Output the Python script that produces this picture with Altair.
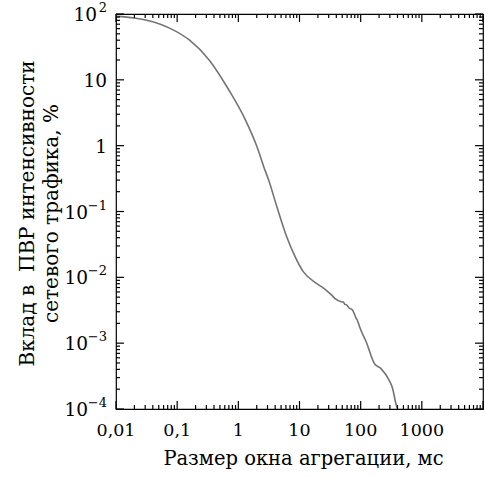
import altair as alt
import pandas as pd

# curve
window_ms = [0.01, 0.02, 0.04, 0.075, 0.158, 0.333, 0.70, 1.31, 2.02, 2.6, 3.13, 4.27,
             6.2, 8.5, 11.6, 19, 22.9, 33.3, 37.8, 48, 52, 55, 58, 62, 66, 70, 72, 75,
             76, 80, 84, 88, 92, 96, 123, 168, 215, 294, 333, 376, 400]
share_pct = [92, 87, 76, 61, 40.3, 20, 7.0, 2.45, 0.96, 0.48, 0.30, 0.118,
             0.041, 0.0205, 0.0121, 0.0081, 0.0072, 0.0054, 0.0048, 0.00425, 0.0042,
             0.0039, 0.00385, 0.0036, 0.00337, 0.0033, 0.00325, 0.0031, 0.0030, 0.0027,
             0.0024, 0.00225, 0.0020, 0.00177, 0.00105, 0.00049, 0.00041, 0.00027,
             0.000205, 0.000121, 0.0001]

# tick labels
x_major = [0.01, 0.1, 1, 10, 100, 1000, 10000]
x_labels = ["0,01", "0,1", "1", "10", "100", "1000", ""]
y_major = [100, 10, 1, 0.1, 0.01, 0.001, 0.0001]
y_base = ["10", "10", "1", "10", "10", "10", "10"]
y_exp = ["2", "", "", "−1", "−2", "−3", "−4"]

x_title = "Размер окна агрегации,  мс"
y_title = "Вклад в\u00a0 ПВР интенсивности\nсетевого трафика, %"

W, H = 367, 395
FONT = "DejaVu Serif"
MAJOR_LEN, MINOR_LEN = 8, 4
LABEL_GAP = 9
EXP_W = {0: 0, 1: 10, 2: 19}


def minor_ticks(majors):
    vals = []
    lo, hi = min(majors), max(majors)
    for m in sorted(majors):
        for k in range(2, 10):
            v = m * k
            if lo <= v <= hi:
                vals.append(float(f"{v:.6g}"))
    return vals


x_minor = minor_ticks(x_major)
y_minor = minor_ticks(y_major)

xscale = alt.Scale(type="log", domain=[0.01, 10000], nice=False)
yscale = alt.Scale(type="log", domain=[0.0001, 100], nice=False)

df = pd.DataFrame({"x": window_ms, "y": share_pct})

main = alt.Chart(df).mark_line(color="#747474", strokeWidth=1.6,
                               interpolate="monotone").encode(
    x=alt.X("x:Q", scale=xscale, axis=None),
    y=alt.Y("y:Q", scale=yscale, axis=None),
)

xt_major = pd.DataFrame({"xv": x_major})
xt_minor = pd.DataFrame({"xv": x_minor})
yt_major = pd.DataFrame({"yv": y_major})
yt_minor = pd.DataFrame({"yv": y_minor})


def x_tick_layer(d, length, edge):
    yc = H - length / 2 if edge == "bottom" else length / 2
    return alt.Chart(d).mark_tick(
        orient="vertical", size=length, thickness=1.2, color="black", opacity=1
    ).encode(x=alt.X("xv:Q", scale=xscale, axis=None), y=alt.value(yc))


def y_tick_layer(d, length, edge):
    xc = length / 2 if edge == "left" else W - length / 2
    return alt.Chart(d).mark_tick(
        orient="horizontal", size=length, thickness=1.2, color="black", opacity=1
    ).encode(y=alt.Y("yv:Q", scale=yscale, axis=None), x=alt.value(xc))


tick_layers = []
for d, ln in ((xt_major, MAJOR_LEN), (xt_minor, MINOR_LEN)):
    tick_layers += [x_tick_layer(d, ln, "bottom"), x_tick_layer(d, ln, "top")]
for d, ln in ((yt_major, MAJOR_LEN), (yt_minor, MINOR_LEN)):
    tick_layers += [y_tick_layer(d, ln, "left"), y_tick_layer(d, ln, "right")]

# x tick labels
xl = pd.DataFrame({"lv": x_major, "t": x_labels})
x_label_layer = alt.Chart(xl).mark_text(
    font=FONT, fontSize=17.5, color="black", align="center", baseline="middle"
).encode(x=alt.X("lv:Q", scale=xscale, axis=None), y=alt.value(H + 22), text="t:N")

# y tick labels: base "10" and raised exponent, right-aligned as a whole
y_label_layers = []
yl = pd.DataFrame({"lv": y_major, "b": y_base, "e": y_exp})
yl["n"] = yl["e"].str.len()
for n in sorted(yl["n"].unique()):
    grp = yl[yl["n"] == n][["lv", "b", "e"]]
    shift = EXP_W[int(n)]
    y_label_layers.append(
        alt.Chart(grp).mark_text(
            font=FONT, fontSize=18.5, color="black", align="right",
            baseline="middle", dy=1
        ).encode(y=alt.Y("lv:Q", scale=yscale, axis=None),
                 x=alt.value(-LABEL_GAP - shift), text="b:N")
    )
    if n > 0:
        y_label_layers.append(
            alt.Chart(grp).mark_text(
                font=FONT, fontSize=13, color="black", align="right",
                baseline="middle", dy=-6
            ).encode(y=alt.Y("lv:Q", scale=yscale, axis=None),
                     x=alt.value(-LABEL_GAP), text="e:N")
        )

# axis titles
x_title_layer = alt.Chart(pd.DataFrame({"t": [x_title]})).mark_text(
    font=FONT, fontSize=19.5, color="black", align="center", baseline="middle"
).encode(x=alt.value(W / 2 + 4), y=alt.value(H + 50), text="t:N")

y_title_layer = alt.Chart(pd.DataFrame({"t": [y_title]})).mark_text(
    font=FONT, fontSize=20, color="black", align="center", baseline="middle",
    angle=270, lineBreak="\n", lineHeight=24
).encode(x=alt.value(-88), y=alt.value(H / 2 + 2), text="t:N")

layers = ([main] + tick_layers + [x_label_layer] + y_label_layers
          + [x_title_layer, y_title_layer])

chart = alt.layer(*layers).properties(
    width=W, height=H,
    autosize=alt.AutoSizeParams(type="none"),
    padding={"left": 116, "top": 14, "right": 2, "bottom": 69},
    background="white",
).configure_view(stroke="black", strokeWidth=1.2)

chart.save("out.html", embed_options={"renderer": "svg", "actions": False})
